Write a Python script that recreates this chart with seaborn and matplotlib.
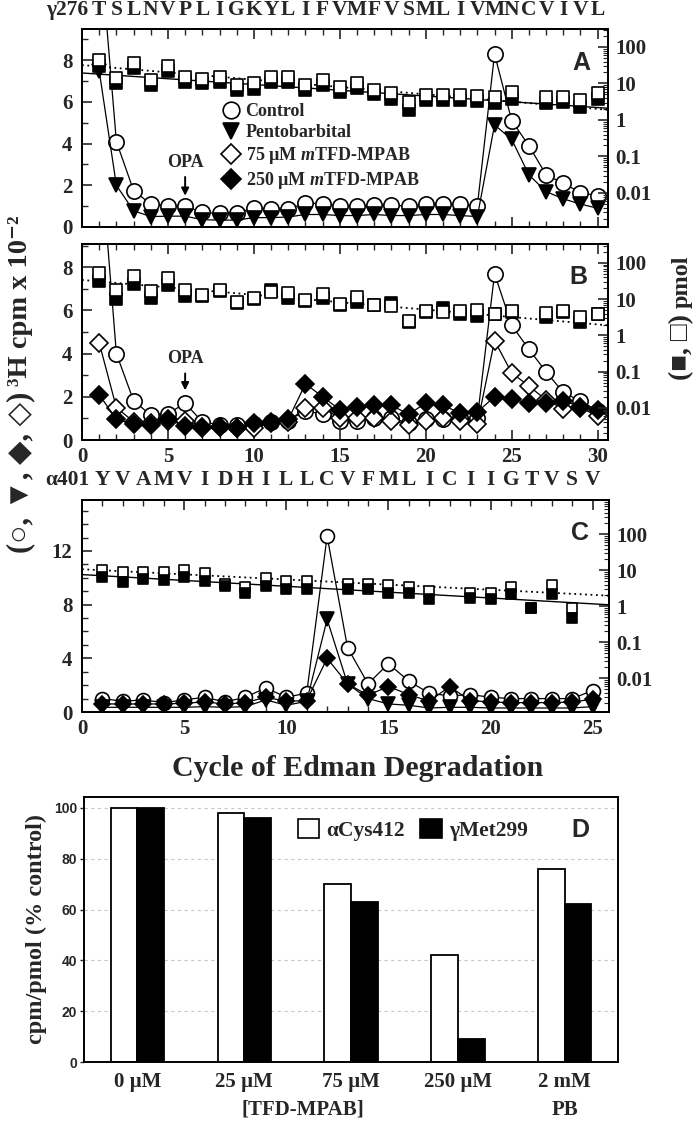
import numpy as np
import pandas as pd
import matplotlib
matplotlib.use("Agg")
import matplotlib.pyplot as plt
import matplotlib.transforms as mtransforms
import seaborn as sns
from matplotlib.ticker import MultipleLocator, LogLocator, FuncFormatter, NullFormatter
from matplotlib.lines import Line2D
from matplotlib.patches import Patch

# ---------------- data ----------------
cycles_ab = list(range(1, 31))
cycles_c = list(range(1, 26))
seq_gamma = "TSLNVPLIGKYLIFVMFVSMLIVMNCVIVL"
seq_alpha = "YVAMVIDHILLCVFMLICIIGTVSV"
nan = np.nan

# Panel A (cpm x 10^-2)
a_control = [14.0, 4.1, 1.75, 1.1, 1.0, 1.0, 0.7, 0.65, 0.68, 0.9, 0.85, 0.85, 1.15, 1.12, 1.02,
             1.0, 1.05, 1.05, 1.0, 1.1, 1.12, 1.08, 1.02, 8.3, 5.1, 3.9, 2.5, 2.1, 1.65, 1.5]
a_pento = [7.5, 2.0, 0.78, 0.5, 0.52, 0.52, 0.35, 0.33, 0.33, 0.45, 0.45, 0.48, 0.6, 0.6, 0.55,
           0.55, 0.6, 0.55, 0.55, 0.6, 0.6, 0.55, 0.5, 4.9, 4.2, 2.5, 1.7, 1.35, 1.1, 0.9]
# Panel A (pmol)
a_open = [44, 14, 36, 12.5, 30, 15, 13.3, 15, 9, 10, 15, 15, 9, 12.5, 8,
          10, 6.6, 5.5, 3.1, 4.8, 4.8, 4.8, 4.5, 4.3, 5.8, nan, 4.3, 4.3, 3.5, 5.5]
a_filled = [30, 10, 26, 9, 22, 11, 10, 11, 6.5, 7, 11, 11, 6.5, 9, 6,
            7.5, 5, 3.8, 1.9, 3.6, 3.6, 3.6, 3.4, 3.0, 3.8, nan, 3.0, 3.2, 2.2, 3.8]
a_fit_x = [0, 30.6]
a_fit_filled = [19.4, 2.1]
a_fit_open = [32.0, 1.9]

# Panel B (cpm x 10^-2)
b_control = [14.0, 4.0, 1.82, 1.15, 1.22, 1.7, 0.84, 0.7, 0.68, 0.75, 0.84, 0.9, 1.35, 1.2, 0.9,
             0.9, 1.0, 1.0, 0.8, 0.95, 0.95, 1.0, 1.0, 7.7, 5.3, 4.2, 3.15, 2.2, 1.8, 1.35]
b_75 = [4.5, 1.5, 0.85, 0.8, 0.9, 0.9, 0.6, 0.6, 0.55, 0.55, 0.8, 0.85, 1.5, 1.5, 1.0,
        1.0, 1.0, 0.9, 0.7, 0.9, 1.0, 0.9, 0.75, 4.6, 3.1, 2.5, 1.85, 1.45, 1.5, 1.1]
b_250 = [2.1, 0.95, 0.75, 0.7, 0.95, 0.65, 0.55, 0.6, 0.55, 0.8, 0.85, 0.95, 2.6, 2.0, 1.4,
         1.55, 1.6, 1.6, 1.2, 1.7, 1.6, 1.25, 1.3, 2.0, 1.9, 1.7, 1.7, 1.8, 1.55, 1.4]
# Panel B (pmol)
b_open = [52, 18, 44, 16.6, 39, 17.8, 13, 17.8, 8.3, 10.6, 15.6, 14.7, 9.6, 13.8, 7.4,
          11.8, 7.1, 6.3, 2.45, 4.6, 4.4, 4.6, 4.9, 3.9, 4.6, nan, 4.1, 4.6, 3.2, 3.9]
b_filled = [31, 10.2, 27, 10.8, 24, 12, 12, 17, 8, 10, 18, 11, 9, 11, 7,
            8.3, 7, 7.7, 2.4, 4.5, 5.7, 3.9, 3.5, 3.9, 4.5, nan, 3.3, 4.5, 2.3, 3.8]
b_fit_x = [0, 30.6]
b_fit_open = [34.0, 1.9]

# Panel C (cpm x 10^-2)
c_control = [1.0, 0.8, 0.9, 0.7, 0.9, 1.1, 0.75, 1.1, 1.8, 1.1, 1.4, 13.1, 4.8, 2.1, 3.6,
             2.3, 1.4, 1.2, 1.3, 1.1, 1.0, 1.0, 1.0, 1.0, 1.6]
c_pento = [0.35, 0.35, 0.35, 0.35, 0.35, 0.4, 0.35, 0.4, 0.9, 0.5, 0.8, 6.9, 2.1, 1.0, 0.6,
           0.5, 0.3, 0.35, 0.35, 0.3, 0.3, 0.3, 0.3, 0.3, 0.4]
c_250 = [0.6, 0.6, 0.6, 0.6, 0.65, 0.75, 0.6, 0.7, 1.1, 0.8, 0.85, 4.0, 2.1, 1.25, 1.9,
         1.3, 0.8, 1.9, 0.85, 0.75, 0.7, 0.7, 0.7, 0.75, 0.95]
# Panel C (pmol)
c_open = [10.5, 8.9, 8.9, 8.9, 10.5, 8.3, 4.2, 3.4, 6.0, 5.0, 5.0, nan, 4.2, 4.2, 3.8,
          3.4, 2.7, nan, 2.4, 2.4, 3.4, 0.9, 3.8, 0.87, nan]
c_filled = [6.6, 4.7, 5.7, 5.3, 6.6, 5.0, 3.6, 2.4, 3.6, 3.0, 3.0, nan, 3.0, 3.0, 2.4,
            2.4, 1.6, nan, 1.7, 1.6, 2.15, 0.9, 2.15, 0.48, nan]
c_fit_x = [0, 25.8]
c_fit_filled = [7.6, 1.1]
c_fit_open = [10.7, 1.97]

# Panel D
d_groups = ["0 µM", "25 µM", "75 µM", "250 µM", "2 mM"]
d_acys = [100, 98, 70, 42, 76]
d_gmet = [100, 96, 63, 9, 62]
d_series = ["αCys412", "γMet299"]

# ---------------- style ----------------
sns.set_theme(style="white")
plt.rcParams["font.family"] = ["Liberation Serif", "DejaVu Sans"]
plt.rcParams["font.weight"] = "bold"
plt.rcParams["mathtext.fontset"] = "custom"
plt.rcParams["mathtext.rm"] = "Liberation Serif:bold"
plt.rcParams["mathtext.it"] = "Liberation Serif:italic:bold"
plt.rcParams["mathtext.bf"] = "Liberation Serif:bold"
plt.rcParams["axes.linewidth"] = 1.4
plt.rcParams["axes.edgecolor"] = "black"

W, H = 694, 1123
fig = plt.figure(figsize=(W / 100, H / 100), dpi=100)


def rect(l, t, r, b):
    return [l / W, 1 - b / H, (r - l) / W, (b - t) / H]


axA = fig.add_axes(rect(82, 29, 608, 227))
axB = fig.add_axes(rect(82, 244, 608, 440))
axC = fig.add_axes(rect(82, 500, 609, 712))
axD = fig.add_axes(rect(84, 797, 618, 1062))


def series(ax, x, y, marker, fc, ms, z):
    sns.lineplot(x=x, y=y, ax=ax, color="black", linewidth=0.9, marker=marker,
                 markersize=ms, markerfacecolor=fc, markeredgecolor="black",
                 markeredgewidth=1.2, zorder=z, legend=False, sort=False, estimator=None)


def squares(ax, x, y, fc, s, z):
    sns.scatterplot(x=x, y=y, ax=ax, marker="s", s=s, color=fc, edgecolor="black",
                    linewidth=1.2, zorder=z, legend=False)


def style_main(ax, ymaj):
    ax.xaxis.set_major_locator(MultipleLocator(5))
    ax.xaxis.set_minor_locator(MultipleLocator(1))
    ax.yaxis.set_major_locator(MultipleLocator(ymaj))
    ax.yaxis.set_minor_locator(MultipleLocator(1))
    ax.tick_params(axis="both", which="both", direction="in", top=True, right=False,
                   bottom=True, left=True, labelsize=15)
    ax.tick_params(axis="y", pad=7)
    ax.tick_params(axis="x", pad=5)
    ax.tick_params(which="major", length=7, width=1.2)
    ax.tick_params(which="minor", length=4, width=1.0)
    ax.set_xlabel("")
    ax.set_ylabel("")


def style_log(ax2, lo, hi):
    ax2.set_yscale("log")
    ax2.set_ylim(lo, hi)
    ax2.yaxis.set_major_locator(LogLocator(base=10, numticks=12))
    ax2.yaxis.set_minor_locator(LogLocator(base=10, subs=np.arange(2, 10), numticks=12))
    ax2.yaxis.set_minor_formatter(NullFormatter())
    ax2.yaxis.set_major_formatter(FuncFormatter(lambda v, p: f"{v:g}"))
    ax2.tick_params(axis="y", which="both", direction="in", right=True, left=False, labelsize=15, pad=5)
    ax2.tick_params(which="major", length=7, width=1.2)
    ax2.tick_params(which="minor", length=3.5, width=0.8)
    ax2.set_ylabel("")


def sequence(ax, label, seq, ylev):
    tr = mtransforms.blended_transform_factory(ax.transData, ax.transAxes)
    for i, ch in enumerate(seq):
        ax.text(i + 1, ylev, ch, transform=tr, ha="center", va="baseline", fontsize=15.5, fontweight="bold")
    ax.text(0.35, ylev, label, transform=tr, ha="right", va="baseline", fontsize=15.5, fontweight="bold")


def opa(ax, tip, ytext):
    ax.annotate("OPA", xy=(6, tip), xytext=(6, ytext), ha="center", va="center", fontsize=13,
                fontweight="bold", arrowprops=dict(arrowstyle="-|>", color="black", lw=1.4,
                                                   mutation_scale=11, shrinkA=2, shrinkB=0))


def panel_letter(ax, x, y, s):
    ax.text(x, y, s, transform=ax.transAxes, fontfamily="Liberation Sans", fontsize=18,
            fontweight="bold", ha="center", va="center")


# ---------------- Panel A ----------------
series(axA, cycles_ab, a_control, "o", "white", 11, 3)
series(axA, cycles_ab, a_pento, "v", "black", 10, 4)
axA.set_xlim(0, 30.6)
axA.set_ylim(0, 9.5)
style_main(axA, 2)
axA.tick_params(labelbottom=False)
axA2 = axA.twinx()
sns.lineplot(x=a_fit_x, y=a_fit_filled, ax=axA2, color="black", linewidth=1.0, legend=False)
sns.lineplot(x=a_fit_x, y=a_fit_open, ax=axA2, color="black", linewidth=1.3, linestyle=(0, (1, 2)), legend=False)
squares(axA2, cycles_ab, a_filled, "black", 70, 5)
squares(axA2, cycles_ab, a_open, "white", 70, 6)
style_log(axA2, 0.00117, 311)
sequence(axA, "γ276", seq_gamma, 1.072)
panel_letter(axA, 0.949, 0.83, "A")
opa(axA, 1.5, 3.1)
legend_handles = [
    Line2D([], [], marker="o", ls="none", mfc="white", mec="black", ms=12, mew=1.2),
    Line2D([], [], marker="v", ls="none", mfc="black", mec="black", ms=12, mew=1.2),
    Line2D([], [], marker="D", ls="none", mfc="white", mec="black", ms=10, mew=1.2),
    Line2D([], [], marker="D", ls="none", mfc="black", mec="black", ms=10, mew=1.2),
]
legend_labels = ["Control", "Pentobarbital", r"75 µM $\mathit{m}$TFD-MPAB", r"250 µM $\mathit{m}$TFD-MPAB"]
axA.legend(legend_handles, legend_labels, loc="upper left", bbox_to_anchor=(0.268, 0.625), frameon=False,
           handlelength=0.9, handletextpad=0.35, labelspacing=0.22, borderpad=0, borderaxespad=0,
           prop={"size": 13, "weight": "bold"})

# ---------------- Panel B ----------------
series(axB, cycles_ab, b_control, "o", "white", 11, 3)
series(axB, cycles_ab, b_75, "D", "white", 9, 4)
series(axB, cycles_ab, b_250, "D", "black", 9, 5)
axB.set_xlim(0, 30.6)
axB.set_ylim(0, 9.07)
style_main(axB, 2)
axB2 = axB.twinx()
sns.lineplot(x=b_fit_x, y=b_fit_open, ax=axB2, color="black", linewidth=1.3, linestyle=(0, (1, 2)), legend=False)
squares(axB2, cycles_ab, b_filled, "black", 70, 5)
squares(axB2, cycles_ab, b_open, "white", 70, 6)
style_log(axB2, 0.0013, 334)
panel_letter(axB, 0.943, 0.83, "B")
opa(axB, 2.3, 3.75)

# ---------------- Panel C ----------------
series(axC, cycles_c, c_control, "o", "white", 10, 3)
series(axC, cycles_c, c_pento, "v", "black", 9.5, 4)
series(axC, cycles_c, c_250, "D", "black", 8.5, 5)
axC.set_xlim(0, 25.8)
axC.set_ylim(0, 15.8)
style_main(axC, 4)
axC2 = axC.twinx()
sns.lineplot(x=c_fit_x, y=c_fit_filled, ax=axC2, color="black", linewidth=1.0, legend=False)
sns.lineplot(x=c_fit_x, y=c_fit_open, ax=axC2, color="black", linewidth=1.3, linestyle=(0, (1, 2)), legend=False)
squares(axC2, cycles_c, c_open, "white", 56, 5)
squares(axC2, cycles_c, c_filled, "black", 56, 6)
style_log(axC2, 0.00115, 900)
sequence(axC, "α401", seq_alpha, 1.07)
panel_letter(axC, 0.945, 0.845, "C")

fig.text(358 / W, 1 - 768 / H, "Cycle of Edman Degradation", ha="center", va="center", fontsize=21.5, fontweight="bold")
# left axis title (two pieces stacked so the symbols can be larger)
fig.text(21 / W, 1 - 386 / H, "³H cpm x 10⁻²", rotation=90, ha="center", va="bottom",
         fontsize=20.5, fontweight="bold")
fig.text(21 / W, 1 - 392 / H, "(○, ▼, ◆, ◇)", rotation=90, ha="center", va="top",
         fontsize=22, fontweight="bold")
# right axis title
fig.text(682 / W, 1 - 308 / H, "pmol", rotation=90, ha="center", va="bottom",
         fontsize=17.5, fontweight="bold")
fig.text(682 / W, 1 - 314 / H, "(■, □)", rotation=90, ha="center", va="top",
         fontsize=20, fontweight="bold")

# ---------------- Panel D ----------------
df = pd.DataFrame({
    "group": d_groups * 2,
    "val": d_acys + d_gmet,
    "series": [d_series[0]] * len(d_groups) + [d_series[1]] * len(d_groups),
})
sns.barplot(data=df, x="group", y="val", hue="series", hue_order=d_series,
            palette={d_series[0]: "white", d_series[1]: "black"}, saturation=1,
            edgecolor="black", linewidth=1.3, width=0.5, gap=0, ax=axD, legend=False)
axD.set_xlim(-0.5, 4.5)
axD.set_ylim(0, 104.3)
axD.set_yticks([0, 20, 40, 60, 80, 100])
axD.yaxis.grid(True, linestyle=(0, (3, 3)), color="#c8c8c8", linewidth=0.8)
axD.set_axisbelow(True)
axD.tick_params(axis="y", direction="out", length=3, width=1, labelsize=10, pad=2, left=True)
axD.tick_params(axis="x", length=0, labelsize=15, pad=7)
for lbl in axD.get_yticklabels():
    lbl.set_fontfamily("Liberation Sans")
    lbl.set_fontweight("bold")
axD.set_xlabel("")
axD.set_ylabel("cpm/pmol (% control)", fontsize=17.5, fontweight="bold", labelpad=5)
trD = mtransforms.blended_transform_factory(axD.transData, axD.transAxes)
axD.text(1.55, -0.18, "[TFD-MPAB]", transform=trD, ha="center", va="center", fontsize=15, fontweight="bold")
axD.text(4.0, -0.18, "PB", transform=trD, ha="center", va="center", fontsize=15, fontweight="bold")
axD.legend([Patch(fc="white", ec="black", lw=1.2), Patch(fc="black", ec="black", lw=1.2)], d_series,
           loc="center left", bbox_to_anchor=(0.40, 0.875), frameon=False, ncol=2,
           handlelength=1.0, handleheight=1.0, handletextpad=0.35, columnspacing=0.7,
           borderpad=0, borderaxespad=0, prop={"size": 15.5, "weight": "bold"})
panel_letter(axD, 0.929, 0.875, "D")

fig.savefig("out.png", dpi=100)
